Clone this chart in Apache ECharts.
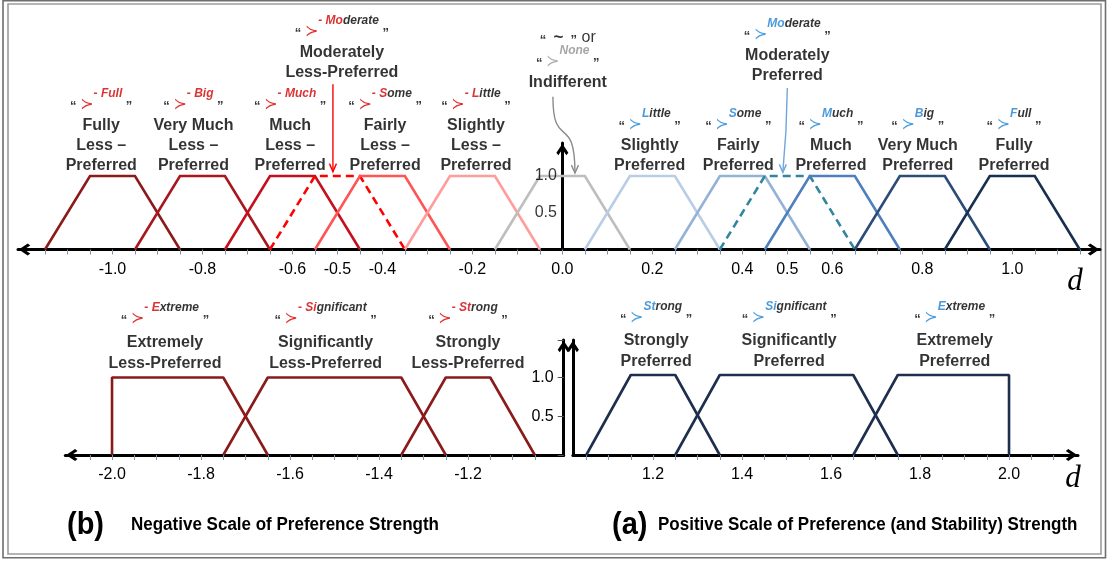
<!DOCTYPE html>
<html><head><meta charset="utf-8">
<script src="https://cdn.jsdelivr.net/npm/echarts@6/dist/echarts.min.js"></script>
<style>html,body{margin:0;padding:0;background:#fff}#c{width:1109px;height:567px}</style>
</head><body><div id="c"></div>
<script>
// ================= DATA =================
// Membership grades of each trapezoid corner
const memberY = [0, 1, 1, 0];

// Top scale: linguistic terms and trapezoid corners (a, b, c, d)
const topTerms = ['-Full','-Big','-Much','-Moderate','-Some','-Little','None','Little','Some','Moderate','Much','Big','Full'];
const topA = [-1.15,-0.95,-0.75,-0.65,-0.55,-0.35,-0.15,0.05,0.25,0.35,0.45,0.65,0.85];
const topB = [-1.05,-0.85,-0.65,-0.55,-0.45,-0.25,-0.05,0.15,0.35,0.45,0.55,0.75,0.95];
const topC = [-0.95,-0.75,-0.55,-0.45,-0.35,-0.15,0.05,0.25,0.45,0.55,0.65,0.85,1.05];
const topD = [-0.85,-0.65,-0.45,-0.35,-0.25,-0.05,0.15,0.35,0.55,0.65,0.75,0.95,1.15];

// Bottom-left (negative) scale
const negTerms = ['-Extreme','-Significant','-Strong'];
const negA = [-2.0,-1.75,-1.35];
const negB = [-2.0,-1.65,-1.25];
const negC = [-1.75,-1.35,-1.15];
const negD = [-1.65,-1.25,-1.05];

// Bottom-right (positive) scale
const posTerms = ['Strong','Significant','Extreme'];
const posA = [1.05,1.25,1.65];
const posB = [1.15,1.35,1.75];
const posC = [1.25,1.65,2.0];
const posD = [1.35,1.75,2.0];

// Tick labels
const topTickLabels = [-1.0,-0.8,-0.6,-0.5,-0.4,-0.2,0.0,0.2,0.4,0.5,0.6,0.8,1.0];
const negTickLabels = [-2.0,-1.8,-1.6,-1.4,-1.2];
const posTickLabels = [1.2,1.4,1.6,1.8,2.0];
const yTickLabels = [0.5,1.0];

// Term label texts
const topSupHi   = ['- Full','- Big','- Much','- Mo','- S','- L','None','L','S','Mo','M','B','F'];
const topSupRest = ['','','','derate','ome','ittle','','ittle','ome','derate','uch','ig','ull'];
const topLines = [
  ['Fully','Less –','Preferred'],
  ['Very Much','Less –','Preferred'],
  ['Much','Less –','Preferred'],
  ['Moderately','Less-Preferred'],
  ['Fairly','Less –','Preferred'],
  ['Slightly','Less –','Preferred'],
  ['Indifferent'],
  ['Slightly','Preferred'],
  ['Fairly','Preferred'],
  ['Moderately','Preferred'],
  ['Much','Preferred'],
  ['Very Much','Preferred'],
  ['Fully','Preferred']
];
const topLabelX = [-1.025,-0.82,-0.605,-0.49,-0.394,-0.192,0.012,0.194,0.391,0.50,0.597,0.79,1.004];

const negSupHi = ['- E','- Si','- St'];
const negSupRest = ['xtreme','gnificant','rong'];
const negLines = [['Extremely','Less-Preferred'],['Significantly','Less-Preferred'],['Strongly','Less-Preferred']];
const negLabelX = [-1.881,-1.52,-1.20];

const posSupHi = ['St','Si','E'];
const posSupRest = ['rong','gnificant','xtreme'];
const posLines = [['Strongly','Preferred'],['Significantly','Preferred'],['Extremely','Preferred']];
const posLabelX = [1.207,1.506,1.878];

// ================= STYLES =================
const topColors = ['#8B1A1A','#A8161E','#C40F1F','#FF0000','#FF5555','#FF9C9C','#BEBEBE','#B9CDE5','#94B2D6','#31859C','#4F7FBD','#2B4C77','#18304E'];
const topDashed = [false,false,false,true,false,false,false,false,false,true,false,false,false];
const topLabelLift = [0,0,0,93,0,0,83,0,0,90,0,0,0];
const negColor = '#8B1A1A';
const posColor = '#1D2F4D';
const SANS = 'Liberation Sans, Arial, sans-serif';
const chevron = 'path://M6,0 L12,9 L10,11.5 L6,5.5 L2,11.5 L0,9 Z';

function makeRich(l1, lm) {
  const hi = (c) => ({fontFamily: SANS, fontSize: 12, fontWeight: 'bold', fontStyle: 'italic', color: c, verticalAlign: 'top', lineHeight: l1});
  const sym = (c) => ({fontFamily: 'DejaVu Sans', fontSize: 16, color: c, verticalAlign: 'top', padding: [9, 0, 0, 0]});
  return {
    q: {fontFamily: SANS, fontSize: 13, fontWeight: 'bold', color: '#000', verticalAlign: 'top', padding: [12, 0, 0, 0]},
    sR: sym('#D80000'), sB: sym('#1E86D6'), sG: sym('#9A9A9A'),
    hR: hi('#D00000'), hB: hi('#1F7FCF'), hG: hi('#909090'), hk: hi('#000'),
    m: {fontFamily: SANS, fontSize: 16, fontWeight: 'bold', color: '#000', lineHeight: lm},
    q2: {fontFamily: SANS, fontSize: 13, fontWeight: 'bold', color: '#000', lineHeight: 14, verticalAlign: 'top', padding: [3, 0, 0, 0]},
    t: {fontFamily: SANS, fontSize: 17, fontWeight: 'bold', color: '#000', lineHeight: 14},
    or: {fontFamily: SANS, fontSize: 16, color: '#000', lineHeight: 14}
  };
}
function labelText(sign, hi, rest, lines) {
  let s = '{q|“ }{s' + sign + '|≻}{h' + sign + '|' + hi + '}' + (rest ? '{hk|' + rest + '}' : '') + '{q| ”}';
  return s + '\n' + lines.map(l => '{m|' + l + '}').join('\n');
}
function trapezoid(a, b, c, d) {
  return [[a, memberY[0]], [b, memberY[1]], [c, memberY[2]], [d, memberY[3]]];
}
function ticks(from, to) {
  const out = [];
  for (let i = Math.round(from * 20); i <= Math.round(to * 20); i++) out.push(i / 20);
  return out;
}

const series = [];
topTerms.forEach((t, i) => series.push({
  name: t, type: 'line', xAxisIndex: 0, yAxisIndex: 0,
  data: trapezoid(topA[i], topB[i], topC[i], topD[i]),
  symbol: 'none', silent: true, clip: false,
  lineStyle: {color: topColors[i], width: 2.6, type: topDashed[i] ? [8, 5] : 'solid', cap: 'butt', join: 'miter'}
}));
negTerms.forEach((t, i) => series.push({
  name: t, type: 'line', xAxisIndex: 1, yAxisIndex: 1,
  data: trapezoid(negA[i], negB[i], negC[i], negD[i]),
  symbol: 'none', silent: true, clip: false,
  lineStyle: {color: negColor, width: 2.6}
}));
posTerms.forEach((t, i) => series.push({
  name: t, type: 'line', xAxisIndex: 2, yAxisIndex: 2,
  data: trapezoid(posA[i], posB[i], posC[i], posD[i]),
  symbol: 'none', silent: true, clip: false,
  lineStyle: {color: posColor, width: 2.6}
}));

// Term labels (anchored at the top of each trapezoid)
const topLabelData = topTerms.map((t, i) => {
  let txt;
  if (t === 'None') {
    txt = '{q2|“  }{t|~}{q2|  ”}{or| or}\n' + labelText('G', topSupHi[i], topSupRest[i], topLines[i]);
  } else {
    txt = labelText(i < 6 ? 'R' : 'B', topSupHi[i], topSupRest[i], topLines[i]);
  }
  return {value: [topLabelX[i], memberY[1]], label: {formatter: txt, distance: topLabelLift[i]}};
});
series.push({
  type: 'scatter', xAxisIndex: 0, yAxisIndex: 0, symbolSize: 1, silent: true, clip: false,
  itemStyle: {color: 'rgba(0,0,0,0)'},
  label: {show: true, position: 'top', align: 'center', rich: makeRich(28, 20)},
  data: topLabelData, z: 5
});
// y tick labels of the top axis (on the d = 0 axis)
series.push({
  type: 'scatter', xAxisIndex: 0, yAxisIndex: 0, symbolSize: 1, silent: true, clip: false,
  itemStyle: {color: 'rgba(0,0,0,0)'},
  label: {show: true, position: 'left', distance: 5, color: '#000', fontSize: 16, fontFamily: SANS,
    formatter: p => p.value[1].toFixed(1)},
  data: yTickLabels.map(v => [0, v]), z: 4
});
series.push({
  type: 'scatter', xAxisIndex: 1, yAxisIndex: 1, symbolSize: 1, silent: true, clip: false,
  itemStyle: {color: 'rgba(0,0,0,0)'},
  label: {show: true, position: 'top', distance: 3, rich: makeRich(30, 21)},
  data: negTerms.map((t, i) => ({value: [negLabelX[i], memberY[1]], label: {formatter: labelText('R', negSupHi[i], negSupRest[i], negLines[i])}}))
});
series.push({
  type: 'scatter', xAxisIndex: 2, yAxisIndex: 2, symbolSize: 1, silent: true, clip: false,
  itemStyle: {color: 'rgba(0,0,0,0)'},
  label: {show: true, position: 'top', distance: 2, rich: makeRich(30, 21)},
  data: posTerms.map((t, i) => ({value: [posLabelX[i], memberY[1]], label: {formatter: labelText('B', posSupHi[i], posSupRest[i], posLines[i])}}))
});

function xAxisCfg(grid, min, max, tickVals, labelVals, symbols) {
  return {
    type: 'value', gridIndex: grid, min: min, max: max, position: 'bottom',
    axisLine: {show: true, onZero: false, symbol: symbols, symbolSize: [12, 13], symbolOffset: [6.5, -6.5],
      lineStyle: {color: '#000', width: 3}},
    axisTick: {show: true, customValues: tickVals, length: 5, lineStyle: {color: '#7D93AD', width: 1}},
    axisLabel: {show: true, customValues: labelVals, margin: 12, color: '#000', fontSize: 16, fontFamily: SANS,
      formatter: v => v.toFixed(1)},
    splitLine: {show: false}
  };
}
function yAxisCfg(grid, max, pos, onZero, showLabels, inside) {
  return {
    type: 'value', gridIndex: grid, min: 0, max: max, interval: 0.5, position: pos,
    axisLine: {show: true, onZero: onZero, symbol: ['none', chevron], symbolSize: [12, 13], symbolOffset: [0, -6.5],
      lineStyle: {color: '#000', width: 3}},
    axisTick: {show: inside, inside: true, length: 6, lineStyle: {color: '#555', width: 1}},
    axisLabel: {show: showLabels, inside: inside, margin: inside ? 10 : 5, color: '#000', fontSize: 16, fontFamily: SANS,
      formatter: v => (yTickLabels.indexOf(v) >= 0 ? v.toFixed(1) : '')},
    splitLine: {show: false}
  };
}

const option = {
  animation: false,
  backgroundColor: '#fff',
  grid: [
    {left: 18, top: 143, width: 1082, height: 106.5, containLabel: false, outerBoundsMode: 'none'},
    {left: 65.3, top: 340, width: 498.4, height: 115, containLabel: false, outerBoundsMode: 'none'},
    {left: 572.9, top: 340, width: 505.1, height: 115, containLabel: false, outerBoundsMode: 'none'}
  ],
  xAxis: [
    xAxisCfg(0, -1.21, 1.195, ticks(-1.15, 1.15), topTickLabels, [chevron, chevron]),
    xAxisCfg(1, -2.105, -0.985, ticks(-2.05, -1.05), negTickLabels, [chevron, 'none']),
    xAxisCfg(2, 1.02, 2.155, ticks(1.05, 2.10), posTickLabels, ['none', chevron])
  ],
  yAxis: [
    yAxisCfg(0, 1.45, 'left', true, false, false),
    yAxisCfg(1, 1.484, 'right', false, true, true),
    yAxisCfg(2, 1.4375, 'left', false, false, false)
  ],
  series: series
};

const chart = echarts.init(document.getElementById('c'));
chart.setOption(option);

// ---------- annotations (arrows, captions, frame) ----------
function P(g, x, y) { return chart.convertToPixel({gridIndex: g}, [x, y]); }
function head(tip, color) {
  return {type: 'polyline', shape: {points: [[tip[0] - 3.5, tip[1] - 8], tip, [tip[0] + 3.5, tip[1] - 8]]},
    style: {stroke: color, lineWidth: 1.4, fill: null}, silent: true, z: 10};
}
const rA = P(0, -0.51, 2.25), rB = P(0, -0.51, 1.06);
const bA = P(0, 0.50, 2.2), bK = P(0, 0.497, 1.62), bB = P(0, 0.49, 1.05);
const gA = P(0, -0.021, 2.08), gB = P(0, 0.028, 1.04);

const graphic = [
  {type: 'rect', shape: {x: 3, y: 0.8, width: 1102.5, height: 557}, style: {fill: null, stroke: '#6E6E6E', lineWidth: 1.6}, silent: true},
  {type: 'rect', shape: {x: 8, y: 4, width: 1093, height: 550}, style: {fill: null, stroke: '#9C9C9C', lineWidth: 1.6}, silent: true},
  // red arrow
  {type: 'line', shape: {x1: rA[0], y1: rA[1], x2: rB[0], y2: rB[1]}, style: {stroke: '#FF0000', lineWidth: 1.4}, silent: true, z: 10},
  head(rB, '#FF0000'),
  // blue arrow
  {type: 'polyline', shape: {points: [bA, bK, bB]}, style: {stroke: '#6FA6DC', lineWidth: 1.4, fill: null}, silent: true, z: 10},
  head(bB, '#6FA6DC'),
  // gray curved arrow
  {type: 'bezierCurve', shape: {x1: gA[0], y1: gA[1], cpx1: gA[0], cpy1: gA[1] + 55, cpx2: gB[0], cpy2: gA[1] + 15, x2: gB[0], y2: gB[1]},
    style: {stroke: '#8C8C8C', lineWidth: 1.4, fill: null}, silent: true, z: 10},
  head(gB, '#8C8C8C'),
  // axis names
  {type: 'text', x: 1075, y: 282, style: {text: 'd', fontFamily: 'Liberation Serif, serif', fontStyle: 'italic', fontSize: 31, fill: '#000', align: 'center', verticalAlign: 'middle'}, silent: true},
  {type: 'text', x: 1073, y: 479, style: {text: 'd', fontFamily: 'Liberation Serif, serif', fontStyle: 'italic', fontSize: 31, fill: '#000', align: 'center', verticalAlign: 'middle'}, silent: true},
  // captions
  {type: 'text', x: 67, y: 525, scaleY: 1.1, style: {text: '(b)', fontFamily: SANS, fontWeight: 'bold', fontSize: 29, fill: '#000', align: 'left', verticalAlign: 'middle'}, silent: true},
  {type: 'text', x: 131, y: 525, scaleY: 1.05, style: {text: 'Negative Scale of Preference Strength', fontFamily: SANS, fontWeight: 'bold', fontSize: 17, fill: '#000', align: 'left', verticalAlign: 'middle'}, silent: true},
  {type: 'text', x: 612, y: 525, scaleY: 1.1, style: {text: '(a)', fontFamily: SANS, fontWeight: 'bold', fontSize: 29, fill: '#000', align: 'left', verticalAlign: 'middle'}, silent: true},
  {type: 'text', x: 658, y: 525, scaleY: 1.05, style: {text: 'Positive Scale of Preference (and Stability) Strength', fontFamily: SANS, fontWeight: 'bold', fontSize: 17, fill: '#000', align: 'left', verticalAlign: 'middle'}, silent: true}
];
chart.setOption({graphic: graphic});
</script>
</body></html>
